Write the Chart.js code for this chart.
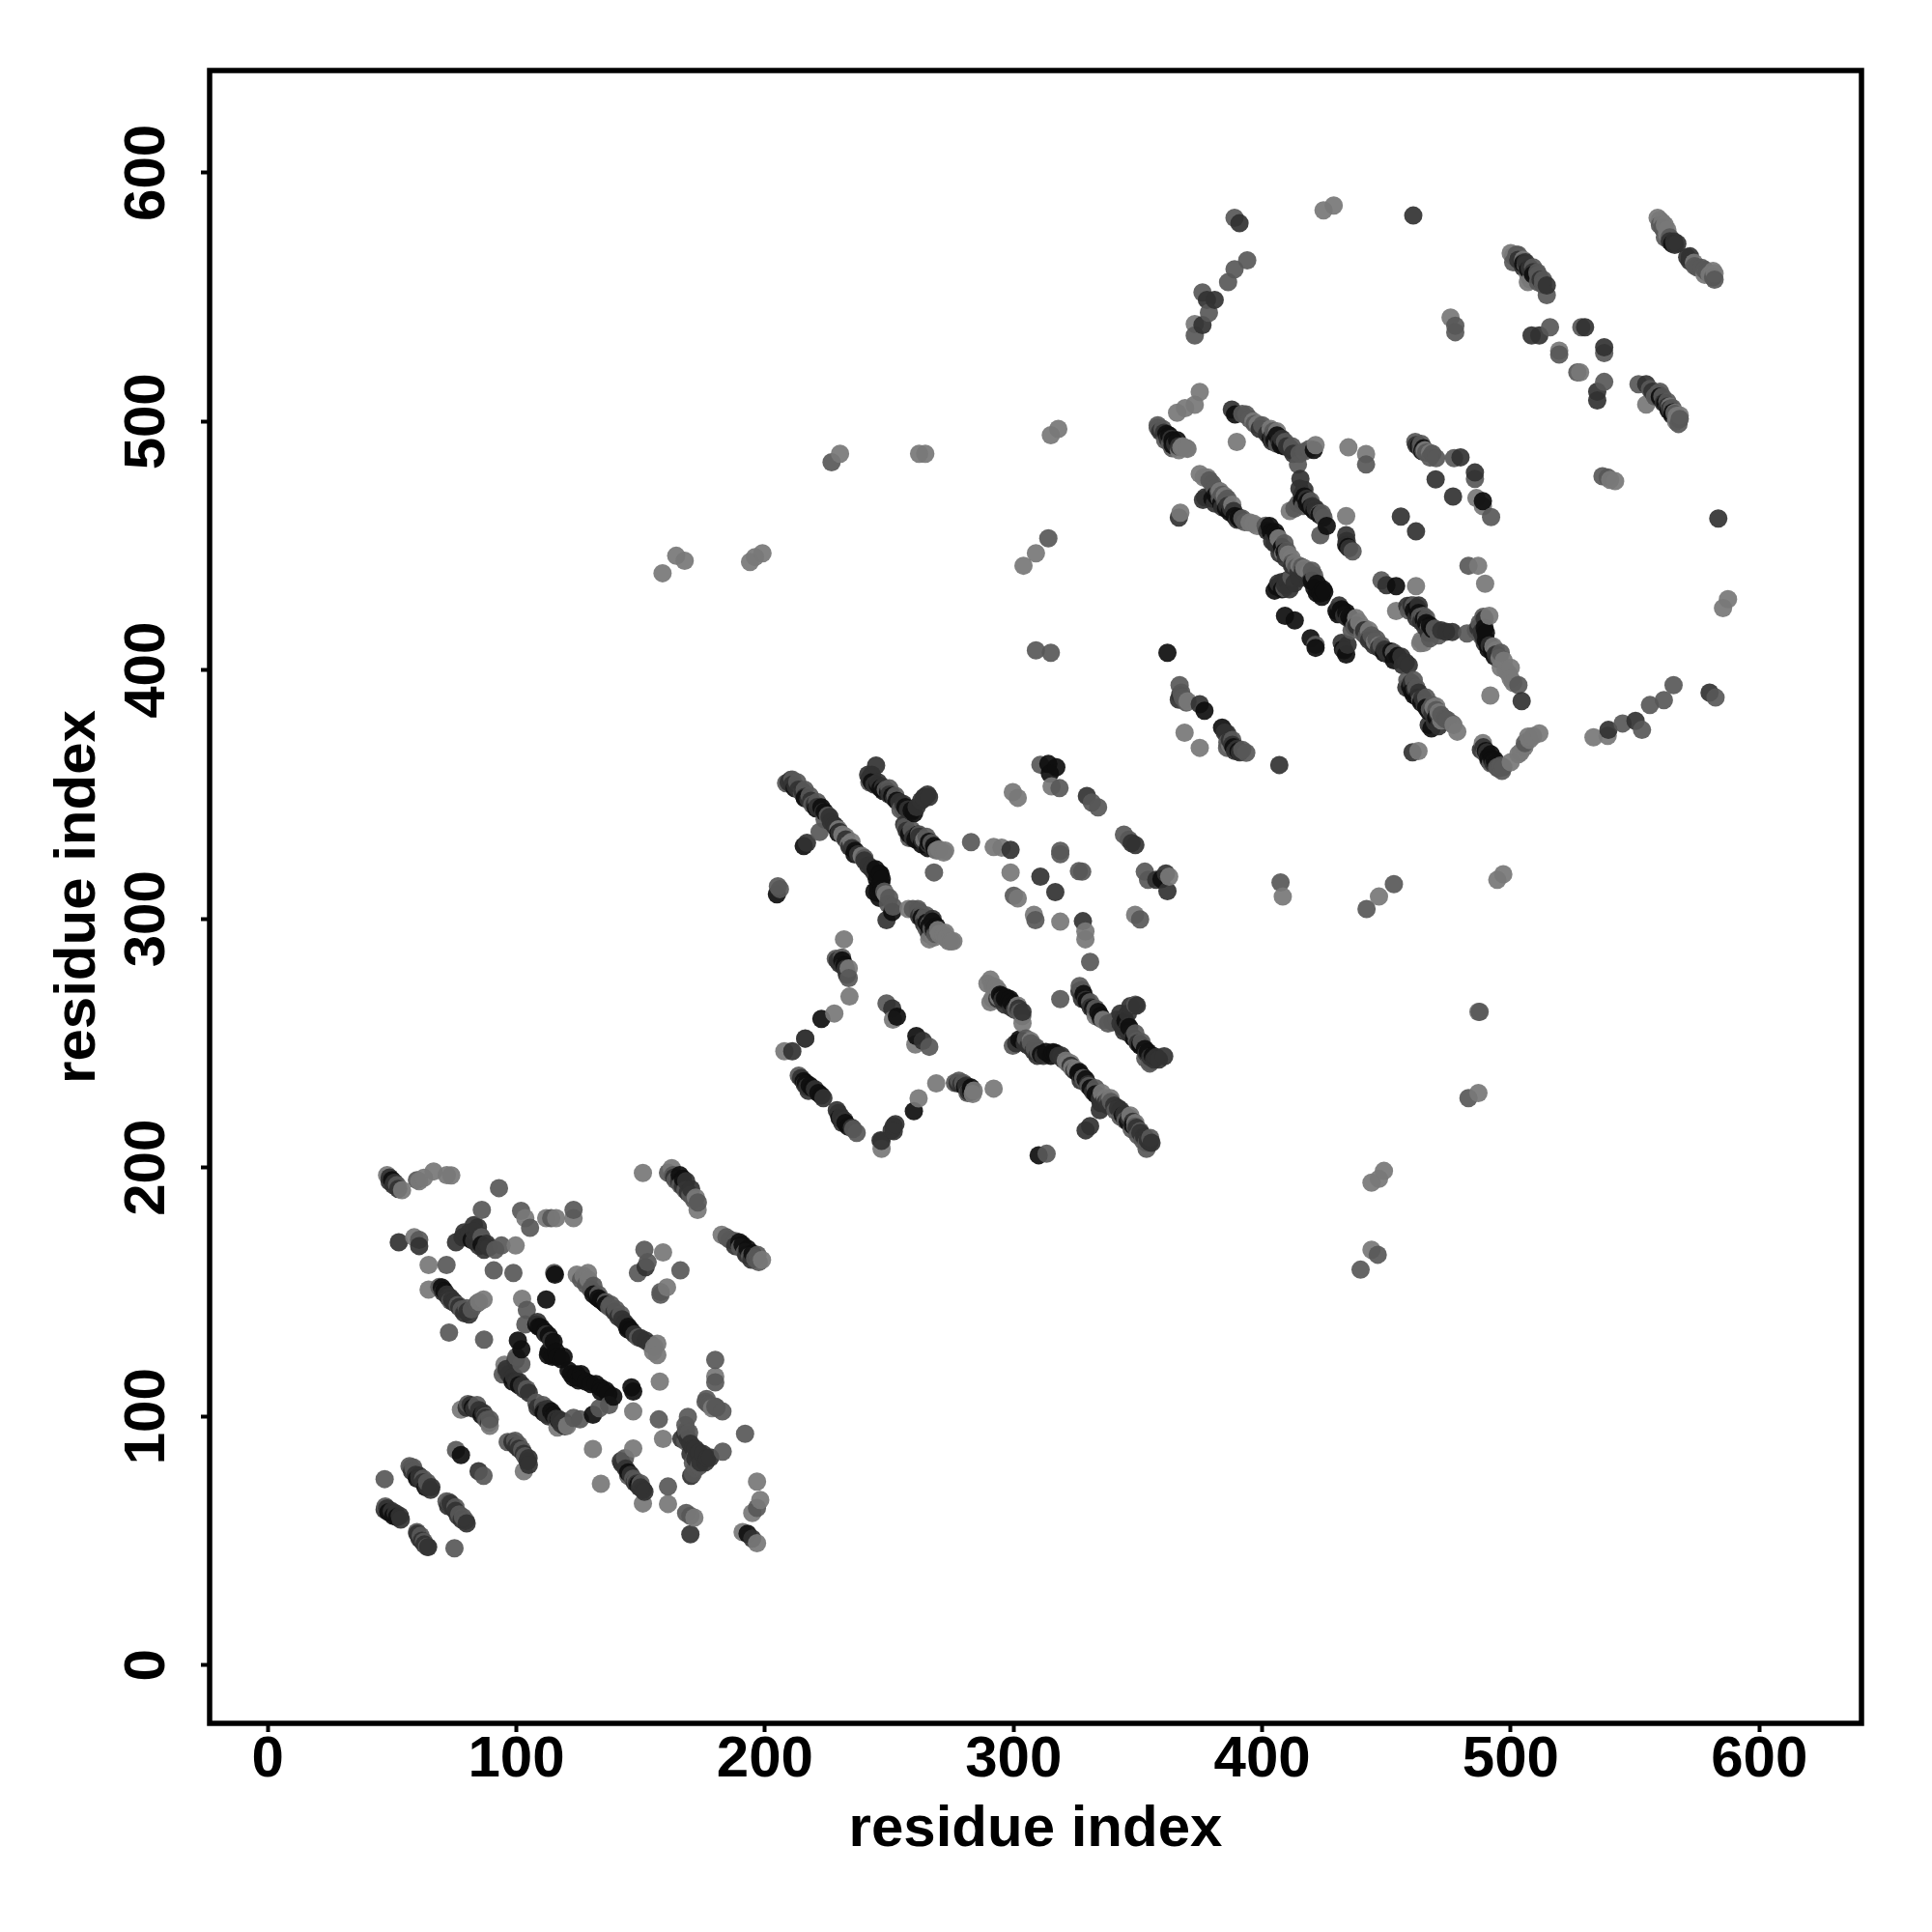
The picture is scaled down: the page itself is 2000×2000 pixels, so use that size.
<!DOCTYPE html>
<html><head><meta charset="utf-8">
<style>html,body{margin:0;padding:0;background:#fff}#w{width:2000px;height:2000px}</style>
<script src="https://cdn.jsdelivr.net/npm/chart.js@4/dist/chart.umd.min.js"></script>
</head><body><div id="w"><canvas id="c" width="2000" height="2000"></canvas></div>
<script>
const tickValues=[0,100,200,300,400,500,600];
const axisTitle="residue index";
const lightPoints=[[48,197],[54,191],[60.9,194.6],[62.8,195.9],[66.7,198.5],[73.8,196.9],[72,197],[58.9,172],[64.7,160.9],[64.7,151],[86.8,147],[85,146],[99.7,168.7],[103.6,179.7],[112,179.7],[116,179.7],[123,179.7],[150.9,197.9],[162.5,199.8],[172.2,188],[172.9,183],[182.6,173],[198.8,162.9],[124.3,157],[128.8,157.7],[127,156.5],[129,155],[156.7,129.2],[155.5,128],[156.7,124.7],[155,126],[159,165.9],[160.6,151.9],[102.3,147.3],[95.2,120.8],[180,116],[178.7,103.3],[159,91],[130.8,86.9],[147,87.1],[134,72.9],[161,64.8],[150.9,65],[171.6,59.3],[196.8,73.8],[198.1,66.4],[194.9,61.2],[191,53.5],[196.8,49],[120.4,96.2],[116.5,95.5],[147,102],[157.7,114],[77.7,102.7],[89.3,96.2],[103,78],
[231.1,333.9],[233.7,330],[238.9,325.4],[229.5,336],[248.6,309.9],[264.1,331.9],[271.9,326.7],[270,328],[257.7,304],[266.1,291.8],[271.9,293.7],[275.8,291.1],[273,292.5],[292,328.9],[295.2,328.7],[299.7,351],[301.7,348.7],[315.3,353.3],[298.8,318.7],[301.7,308.3],[308.2,301.7],[318.8,298.9],[328.9,295],[328.9,291.8],[348.9,301.7],[362.6,317],[231.8,291.8],[233.7,280.1],[234,268.8],[227.9,262],[207.8,246.8],[246.9,207.6],[261.8,227.9],[268.9,233.9],[283.6,229.6],[292,231.8],[251.5,259.5],[260.5,249.5],[290.7,275.6],[292.6,271.7],[290.7,266.5],[301.7,265.2],[303.6,258.1],[336,259.4],[333,261],[306.9,251],[321.8,241.9],[323.5,240],
[374.9,511.9],[372.9,506.7],[369,505.4],[365.8,503.5],[369.7,489.2],[368,490],[398.2,498.9],[403.4,497],[396.5,500],[421.5,490.5],[389.8,491.8],[411.1,464],[434.7,489.6],[441.8,486.9],[433.8,462],[467.5,487.3],[465.5,488.5],[486.2,469.2],[488.8,465.9],[486.9,442],[489.7,434.8],[374.9,478.9],[376.5,477.5],[367.1,463.3],[394.9,459.4],[396.5,459],[406.6,453],[411.8,445.2],[413,443],[418.9,439.4],[439,419.3],[437.8,421],[445.4,411.5],[447,410],[461.9,433.8],[453.9,423.8],[463.6,410.9],[491.4,421.9],[497.2,403.8],[499.2,398.6],[500,401],[491.8,389.8],[472,379.8],[478.5,375.3],[462.9,367.5],[488.8,370.7],[503.1,366.2],[507,373.3],[511.5,374.6],[509,373.5],[368.8,374.9],[374.9,368.8],
[424.7,584.9],[428.8,586.8],[372.9,539.2],[500,567.7],[501,566.5],[506.9,556],[559.1,581.9],[562.9,575.4],[561,580],[573.7,563.8],[581.4,560.5],[475.8,541.8],[519.5,528.5],[527.9,519.7],[554.5,506.8],[566.8,502.3],[567.5,501],
[158.8,439],[164.3,446],[167.7,444],[194,443.5],[196,445.5],[199,447],[230.2,487],[262,487],[264.5,487],[315,494.5],[318,497],[304,442],[309,447],[408.3,309],[447,309],[494.6,315.7],[497,318],[487,262.6],[487,230],[444,194],[449,198.7],[447,195.5],[444,167],[533.3,373],[539,373.6],[585.4,425],[587.4,428.6],[542,476],[540,476.5],
[234.8,331],[232.5,333],[268,292.5],[270,294],[273,292],[275,291],[272.5,294.5],[269.5,295.5],[274,291],[269,327.5],[272.5,327.5],[284,231],[289.5,274],[291.5,273],[293,272.5],[294,271],[294,268.5],[291.5,268],[321,243],[323,242],[325,239.5],[335.5,230],[337,228],[339,228],[347,221],[349,218],
[367.5,489.5],[366.5,488.5],[370,489],[406,496],[378,477.5],[383,472],[385,470],[388,466.5],[398,458],[408.5,447],[410.5,446.5],[415,442],[417,441],[441,417],[443,416],[440.5,415],[469,385],[470,385.5],[471,383],[477,378],[464,412],[465,411],[493,409.5],[495.5,405],[494,408],[496,401],[498,400],[500,396.5],[501,395],[500,363],[505.5,369],[507.5,372],[504,367],[370,387.5],[387,370],[503,566],[505,565],[507,559],[508,557],[560,581],[562,579],[563,577],[578,559],[580,559],[582,559.5],[564,506],[566,503.5],[568,502.5],[566.5,500]];
const midPoints=[[60,195],[52,193],[93,191.8],[86.1,183],[101.9,182.6],[105.5,175.8],[114,179.7],[123,183],[60.9,171],[71.9,160.9],[90.9,158.7],[98.8,157.7],[115.2,157.7],[148.9,157.7],[152.8,162],[158,148.9],[158,150],[166,158.7],[76.4,144.8],[78,143],[73.5,146.5],[84.2,145.4],[72.9,133.7],[87,130.9],[104.2,142.8],[103.6,137],[137.3,144],[148.9,131.8],[94.5,116.9],[96,118],[104.2,111],[180,122.7],[180,113.7],[176.1,105.9],[182.9,102],[180.5,103.5],[157.3,98.8],[169,99.8],[192,93],[183,85.8],[168.3,94.2],[171,81.3],[172,84],[143.7,83.2],[145,76.1],[148,74],[161,71.8],[168.3,61.2],[170,60],[196.8,63.2],[110.7,104.6],[108,105.5],[123,99.4],[125.6,98.8],[133.4,103.3],[137.3,104.6],[84.2,104.6],[89.3,98.8],[87.5,100],[96.5,89.7],[102.3,86.5],[75.7,86.5],[86.8,76.1],[47,74.8],[57.6,79.4],[59,78],[64.1,73.5],[62.5,75],[47.3,63.8],[71.9,65.8],[77,60.6],[79.6,58],[78.5,59.5],[62.8,49.6],[64.1,47.6],[75.1,47],[86,172],[94,168.7],[91.5,167],[151.5,167],
[161,198],[163,197],[164,195],[166,193],[168,191],[170,189],[171.5,187],[173,186],[184.5,172],[186,171],[188,170.5],[190,168],[192,166],[194,164.5],[196,163.5],[197.5,162],[197,165],[126,155],[128,153],[130,151],[131,152.5],[133,149],[136,146],[138,145],[140,143],[142,141],[80,143.5],[82,143],[69,152],[102,121],[100,124],[80.5,105],[88,98.5],[101,88.5],[99.5,90.2],[103.5,84],[57,80],[58.5,79.5],[73,65.5],[75.5,63.5],[60,53.5],[61.5,52],[147,75],[150,73],[168,96.5],[168,90],[169.5,93.5],[172,79],[171,77],[173.5,80],[177,105],[178,104.5],[180,104],[176.5,107],
[208.5,354.6],[214.9,350.7],[225.3,341.6],[222,335],[219,346],[248.9,266],[255.7,344],[248.6,352],[259,335.8],[268,318.7],[261.5,304],[264.8,301.5],[282.9,330.9],[205.2,313.1],[206,312],[310.8,362],[318.5,352.6],[331.5,346.8],[334,344.9],[318.8,327.4],[318.8,326],[326.3,319.2],[327.6,319],[300.1,309.3],[308.8,299.5],[330.8,282.7],[344.4,333.9],[346.4,331.9],[352.8,319],[354.1,315.7],[350.9,299.8],[233.7,276.2],[213.6,237],[236.9,214],[276.4,234.1],[279.7,234.1],[266.1,248.6],[318.8,267.8],[326.6,273],[330.8,266.5],[333,264],[349,265.5],[349.6,251],[354.8,241.9],[299.7,249],[310.1,246.4],[308.5,248],[330.2,232.8],[328.5,235],[339.2,226.4],[345.7,219.2],[350.9,214.7],[349,216.5],[353.5,207.6],[313.3,205.6],[216.2,252],
[211,356],[213,355],[216,352],[218,349.5],[221,347],[224,340],[240,324.5],[248,311],[250,308.5],[249.5,306],[251.5,305],[242,355],[250,352.5],[252.5,349.5],[254.5,344],[256.5,337],[258,332.5],[262,334],[265,333],[267,330.5],[259.5,304],[262,303],[263,302],[264,300],[266,298],[267,296],[268.5,294],[265,296],[233,277.5],[228.5,284],[231,284.5],[235.5,215.5],[278,235],[281.5,230],[301,263.5],[302.5,262.5],[303.5,261],[327.5,271.5],[338,258],[340,258.5],[341.5,259.5],[349,254],[351.5,250.5],[353,244],[355,242.5],[305,252],[307,250],[309,248.5],[328,236],[333,232],[338,227],[341,223],[343,220.5],[345,219],[347.5,215.5],[350,213],[352,211],[353.5,210],[355,212],
[360,497],[358,498.5],[363.9,489.2],[393.6,502.8],[409.2,491.8],[416.9,487.9],[414.4,482.7],[424.7,461.4],[423,463],[423.4,454.3],[441.8,482.7],[436.4,447.8],[461.6,491.8],[470,485.3],[477.2,485.3],[485.6,476.9],[492.1,461.6],[483,442],[378.8,476.3],[385.2,467.9],[383,469],[401.4,458.1],[413.7,441.3],[411.8,437.4],[440.9,414.8],[443,413],[421.5,410.2],[448,436.1],[464.9,421.9],[469.4,416.7],[467.5,412.8],[482.4,414.8],[503.1,394],[458.4,396],[463.6,388.2],[467.5,384.3],[465.5,386],[476.5,378.5],[495.9,361.7],[489.5,366.8],[505.7,370.7],[366.8,394],[369,388.2],[385.9,368.8],[393.6,366.8],[409,433],
[358,497.5],[361,492.5],[363,491],[392,503],[395,501],[397,499],[400,498.5],[404.5,496],[406,491],[412,490],[415,487],[419,489],[414.5,467],[413,465],[416.5,466],[419.5,468],[424,463],[464,491],[465,488],[466,487.5],[467.5,485.5],[468.5,487],[463,490],[464,488.5],[380,475],[381,473],[382.5,472],[384,470.5],[386,469],[392,461],[393,459.5],[409,451],[410,448],[412,443],[416,441.5],[420,440],[421,438],[437,417.5],[436,416],[442,413.5],[446,412.5],[444,414],[448,410],[453,407],[461,396],[462,393],[466,389],[468.5,386],[470,384],[472,382],[473.5,380.5],[474.5,380],[459,424],[461,426],[463.5,421.5],[466,421],[467,417],[471,414],[486,416],[487.5,419],[489,421.5],[488,414],[496,407],[492,362.5],[495,360.5],[494.5,361],[497,361],[496.5,359.5],[367.5,391],[368,389],[369.5,387],[386,371],[388,372],[392,368],
[388.9,581.9],[394,564.8],[388.9,561.2],[386.3,556],[376,551.9],[378.6,543.7],[372.9,534.6],[502.3,567],[510.7,559.9],[514.5,550.8],[561.4,577.4],[576.8,561.8],[581.4,558],[477.7,538.5],[477.7,535.9],[515.8,537.9],[528.4,537.9],[537.6,527.5],[519.5,526.9],[526.8,519.7],[537.6,515.9],[551.4,515],[559.1,511.3],[567.5,499],[505,564],
[501,564],[503,567],[506,563],[509,562],[511,559],[513,557],[511,556],[513,555],[560,579],[561,578],[562,574],[564,574],[574,562.5],[575,562],[578,561],[579,560],[582,557],[556,513],[558,510],[560,512],[561,510],[563,508],[565,505.5],[566,503],[568,501],
[226.8,483.6],[314,453],[309,408],[315,407],[407.4,314.7],[442,304],[453,314],[487.5,262.6],[483,228],[439.6,159],[446.5,165],[545,378.6],[552.8,376],[556,386],[561.6,388],[565.5,394],[582.4,389],[536.9,478],[539,477.5]];
const darkPoints=[[49,196],[51,194],[52.7,170],[60.9,168.5],[82.9,176.9],[81,173.9],[75.7,170],[78.3,172],[88,169.4],[84.5,176],[168.3,194.6],[170.3,191.4],[152,160],[73.2,148],[80.3,142.2],[72,149],[114,130.5],[99.7,122.7],[98.4,115.6],[102.3,112.4],[100,114],[143.7,137.6],[166.4,91],[171,87.1],[176.8,83.2],[170.3,76.1],[173,85],[147.6,73.5],[151.5,69.7],[149.5,71.5],[170,52.6],[194.9,50.9],[117.2,98.8],[119,98],[81.6,104.6],[86.8,101.4],[98.4,89.7],[104.9,83.2],[84.8,78],[49.9,61.9],[53.1,60],[51.5,61],[74.5,63.2],[60.2,52.8],[60.9,76.1],[65.8,71.6],[175,85],
[49,194.5],[50.5,193],[52.5,191.5],[79,174],[80.5,172],[83,170.5],[85,168.5],[87,167],[89,168],[83,174.5],[85.5,172.5],[163.5,196],[165.5,194.5],[167,192.5],[169,190],[188,168.5],[192.5,165],[194.5,163],[139.5,142],[141,140],[142.5,139],[144.5,136],[147.5,133],[150,131.5],[152,130.5],[154,129],[74,147],[75,146],[77,144],[79,141.5],[81,141],[70.5,150],[72.5,148],[74.5,146],[108.5,138],[112,133],[96,119],[97,117],[99,116],[100,113.5],[101,114],[103,111],[105,109.5],[108.5,103.5],[110,103],[111,102.5],[112,101],[113,100],[115,100],[116,99],[118,97],[119.5,96],[112.5,103],[80,103.5],[83,103],[85,102.5],[87.5,99.5],[89,97.5],[99,89],[100,88],[101,87],[103,85],[104.5,82],[105,80.5],[58,78],[59.5,76.5],[61,75],[62.5,73.5],[64,72],[65.5,70.5],[47,62.5],[48,63],[53.5,58.5],[72.5,64],[73.5,65],[75.5,62],[76.5,60],[78,58.5],[80,57],[61,51],[62,50],[63,48.5],[64.5,47.5],[142.5,81],[144,79],[146,76.5],[148.5,73],[150,71.5],[151,70.5],[142,82],[168,93],[169,91],[170,89],[172,87],[173.5,85.5],[170,85],[172,83],[174,81.5],[176,81.5],[178,83.5],
[210.4,355.9],[212.3,353.3],[217.5,348.1],[227.9,337.7],[242.8,320.3],[248.9,299.5],[216.9,330.6],[244.7,361.7],[242.1,356.5],[255.7,346.2],[265.4,350],[262.8,347.5],[264,349],[267.4,300],[268,295],[298.8,327.8],[329.5,349.4],[349,329.7],[347.5,330.5],[357.4,315.7],[361.9,311.2],[361.3,318.3],[327.9,299.1],[310.8,317],[316.8,310.8],[229.2,283.3],[216.2,251.9],[211,246.8],[217.5,230.9],[220.1,231.6],[228.9,223.1],[231.1,218],[246.9,210.8],[251.8,216.7],[251.8,214.7],[251.2,264],[263.5,251],[303.6,262.6],[302,264],[349.6,265.2],[344.4,260],[344.4,254.9],[346,257],[357.4,244.5],[360.6,244.8],[319.2,245.1],[334.7,227.7],[334.7,223.1],[336,226],[330.8,216.7],[329,215],[343.1,223.1],[354.8,210.2],[353,212],
[209.5,355],[211,354],[213.5,352],[215,351.5],[216,349],[218.5,347.5],[220,346],[221,345],[223.5,343],[226,341],[226.5,339],[228.5,337],[230,335],[232.5,332],[234,329],[235,328.5],[237.5,326],[240,323.5],[241.5,321.5],[244,318.5],[241.5,358],[243,358],[244,354],[245.5,355],[247.5,353],[250,350],[252,348.5],[254,347],[257.5,344],[259,343],[261,345],[264,348.5],[266,349],[256,338],[257,335.5],[259.5,332.5],[262,333],[263.5,331.5],[266,330],[262,301],[264,298],[266,294],[230,282],[231.5,281],[232.5,280],[233,278],[214.5,236],[216,233.5],[217,232.5],[223.5,228],[229.5,222],[230.5,220.5],[232,219],[235,216],[251,215],[252.5,217.5],[246.5,211],[277.5,234],[279,233.5],[281,233],[282,230.5],[293.5,268],[295.5,267.5],[296.5,265.5],[299,264.5],[300.5,263.5],[326.5,271],[327.5,268],[329,267.5],[331,264.5],[332.5,263],[335,260],[343,262],[346,262],[347,265],[343,258],[344,256.5],[346.5,254],[348,252.5],[350,250],[353.5,246],[355,244.5],[356.5,243.5],[358.5,243.5],[301,250],[304.5,250],[306,249],[308,247],[309.5,245],[312,245],[318,245],[320,243.5],[323,241],[324.5,239],[327,235],[330,233.5],[332,230.5],[335,226],[337,226],[338,225],[340.5,225],[342,224],[344.5,221.5],[346.5,220],[348,218.5],[349.5,216],[351,214],[352.5,212.5],[354,211],[355.5,210],
[387.8,504.8],[411.8,488.6],[415.4,476.9],[420.2,465.9],[433.8,454.3],[485.6,479.5],[469.8,476.7],[476.8,469.8],[455.8,461.8],[461.9,455.8],[479.8,485.6],[376.2,468.5],[366.5,461.4],[388.5,464],[407.9,449.1],[409.2,434.2],[449.3,408.3],[457.8,403.1],[434.4,410.2],[450,434.2],[458.4,425.8],[472,416],[476.5,415.4],[474,415.5],[489.5,420.6],[488.2,415.4],[494,406.3],[504.4,387.6],[470.7,382.4],[366.5,388.2],[374.9,386.3],[385.9,374.6],[389.1,367.5],[406.9,361.9],[460.5,367],
[359,496],[360.5,495.5],[362,493],[363.5,493],[365,491],[366.5,490],[399,497],[402,495],[404,494],[404,492],[407,492],[408,493],[410,490],[411,489.5],[412.5,487],[417,472.5],[415,473],[416,470.5],[418,469],[421.5,465],[422.5,463.5],[434,452],[435,449],[462,490.5],[463.5,490],[377,469.5],[379,470],[381,467],[384,465.5],[386,466],[387.5,465],[390,460.5],[402,456],[404,452],[405,451],[406.5,450],[407,447],[409.5,445],[412,442],[414.5,439],[416.5,440],[419.5,436],[406.5,435],[408,435.5],[410,436],[411,432.5],[413,435],[415,437],[431,426],[433,422],[434.5,421],[438,418],[441,416],[443,412],[445,410],[447,409],[450.5,406.5],[456,405.5],[456.5,402],[459,402],[432,411],[433,408],[458,393],[460,395],[461.5,392.5],[463,391],[464.5,389],[465.5,386.5],[468.5,382.5],[469.5,379],[471,377.5],[467,378],[460,426],[463,426],[462,421],[464,419.5],[465.5,417.5],[467,415],[487,417],[489,413.5],[489.5,411],[491.5,410],[494.5,406],[495,404.5],[488,368],[489,369],[490.5,367],[491,364],[493,362.5],[367,390],[385,375],[387,372],[388,370],[390,368.5],[391,367],
[390.9,579.7],[460.8,582.8],[377.8,548.9],[380.9,548.9],[376,538.8],[504.6,564.4],[507.6,561.8],[514.5,554.7],[565.7,572.4],[572.1,566.4],[567,571.5],[508.4,534.6],[511.5,534.6],[529.9,537.9],[537.6,529.8],[534.8,512],[534.8,508.5],[554.5,515],[580,391],[539.3,376],[550.2,379.6],[583.5,461],
[503,565],[505,562],[506,564],[508,561],[509,560],[512,557],[564,572.5],[566,571],[571,566],[572,564.5],[557,512],[560,509.5],[561.5,507.5],[563,506],[564,505]];
const blackPoints=[[50,195],[165.7,197],[167,195.5],[193,167.4],[191,169],[195,165.5],[189.7,170],[134,146.7],[132.5,148],[135.5,145.5],[146.3,134.4],[145,136],[70,151.9],[71,150.5],[112,147],[110,135.7],[111.5,133.5],[100.6,130.5],[116.5,124],[112.7,124.7],[114.5,124],[124.3,116.9],[123,115.6],[126,115],[132,113],[136,110.4],[134,111.5],[146.3,111.7],[114,102],[130.8,100.7],[77.7,84.5],[193,52.8],[115.5,157],[147,110],
[82,171],[86,169],[131,149],[133,147.5],[136,145],[144.8,135],[108,137],[109,136],[111.5,134],[113,132.5],[115,130],[113,126],[116,126],[118,123],[119,124],[122,117],[125,114.5],[128,114],[130,113],[134,110],[137,109],[139,108],[126,117],[121,118.5],[98.5,114],[101,112.5],[102,127],[111,101.5],[115,100.5],[117,98.5],[82.5,103.5],[86,100.5],[60,75],[63.5,71.5],[48.5,61.5],[50.5,60],[52,59.5],[145,77.5],[149,72.5],
[222.7,344.9],[224,343],[236.3,327.4],[246,318.3],[246.7,314.4],[245.4,310.5],[251.2,302.8],[247,316],[215.6,329.3],[245.4,353.9],[251.2,349.4],[259,343.6],[261.5,333.9],[268,329.3],[266,331],[267.4,298.9],[269,297],[317.2,361],[314.6,358.5],[314,362.3],[204.8,309.9],[359.5,316],[231.1,283.3],[222.7,259.8],[215.6,234.8],[222.7,229],[232.4,218],[259.9,222.7],[282.9,232.2],[253.1,260.7],[260.9,252.9],[295.2,269.1],[298.5,267.8],[297,268.5],[328.2,269.8],[334.1,262.6],[352.8,247.7],[351,249.5],[302.3,251.6],[315.9,246.4],[327.6,236.7],[326,238],[310.1,205],
[212,352.5],[216,348.5],[220.5,344.5],[229.5,334.5],[236,326],[244.5,320],[246.5,318],[245,316],[247,312],[245.5,313],[244,311],[246,308.5],[243,355],[246.5,352.5],[249.5,351],[253,347.5],[256.5,345],[260,342.5],[247.5,351.5],[258,334],[260.5,332],[263,330],[265.5,328.5],[268.5,328],[263,300.5],[266,297],[268,296],[265,298.5],[232,281.5],[216.5,234],[218,233],[219,232],[221.5,230],[230,220],[233.5,216.5],[280.5,232.5],[283,230.5],[294.5,269.5],[296.5,268],[299,266.5],[300,265.5],[329.5,267],[332,264],[335,261],[345,259],[346.5,256.5],[348.5,252],[351,249],[354,246.5],[356,245],[303.5,251],[311,245.5],[313,246.5],[315,245],[317,246],[326.5,238.5],[329,235.5],[331,232],[333,229.5],[344,221],[346,218.5],[348,217],
[362.6,494.4],[365.8,492.5],[389.1,502.8],[406,494.4],[420.8,488.6],[417,469.8],[418.5,468],[426,458],[433.8,450.4],[464.9,489.2],[381.3,470.4],[391.1,460.7],[405.3,455.6],[422.1,434.8],[423.4,430.9],[424.5,432.5],[406,433.5],[429.9,423.8],[433.8,423.2],[431.5,424],[454.5,405.7],[433.8,406.3],[409.2,421.9],[413.1,420],[419.5,412.8],[421.5,409],[453.9,433.8],[462.3,425.1],[467.5,418],[490.8,410.2],[460.3,391.5],[468.1,376.6],[492,366.2],[493.5,364],[361.9,407],[376.8,383.7],[383.9,376.9],[488.8,468],
[361.5,495],[364,492.5],[364,490.5],[403.5,493],[405,492.5],[407.5,490.5],[409,490],[416,468],[418,467],[419.5,465.5],[421,464],[423,462.5],[434.5,449.5],[463,490],[464.5,488],[380,469],[382,469.5],[383.5,467],[385.5,465],[387,463.5],[389,462],[390.5,461.5],[403,458],[403.5,455.5],[406,454],[408,449.5],[409,447.5],[420,436],[421,433],[422,431],[424,429.5],[425,431.5],[405,432],[408,432.5],[430.5,422.5],[432,424.5],[435,421.5],[436,420],[449,407],[452,407.5],[453,404],[432.5,408.5],[459.5,393.5],[461,390],[462.5,389],[464,387],[466,385],[467,383.5],[470,381],[461,424],[463,423],[465,420.5],[466,419],[468.5,416.5],[490,412],[491,408.5],[492.5,407.5],[493.5,405.5],[490,415],[489.5,417],[492.5,409],[490,367.5],[491,365],[492.5,364],[494,362.5],[388.5,369],[390.5,367.5],
[505,563.5],[507,561],[509,559],[565,571.5],[562.2,507.4],[565.2,503.6],[560,510],[563.5,504.5],[565,502.5]];
const shades=[[lightPoints,"rgba(120,120,120,0.93)"],[midPoints,"rgba(88,88,88,0.92)"],[darkPoints,"rgba(50,50,50,0.92)"],[blackPoints,"rgba(14,14,14,0.92)"]];
const merged=[];
shades.forEach(([pts,col])=>pts.forEach(([x,y])=>merged.push({x,y,col})));
merged.sort((a,b)=>a.x-b.x);
const labelFont={family:"'Liberation Sans',Arial,sans-serif",size:60,weight:"bold"};
function commonScale(title,pad,extra){return Object.assign({type:"linear",min:-23.4,max:641.1,
  afterBuildTicks(s){s.ticks=tickValues.map(v=>({value:v}));},
  grid:{drawOnChartArea:false,drawTicks:true,tickLength:9,tickWidth:4,tickColor:"#000"},
  border:{display:false},
  title:{display:true,text:title,color:"#000",font:labelFont,padding:pad}},extra);}
const boxPlugin={id:"box",afterDraw(ch){const a=ch.chartArea,c=ch.ctx;c.save();c.lineWidth=5.5;c.strokeStyle="#000";c.lineJoin="miter";c.strokeRect(a.left,a.top,a.right-a.left,a.bottom-a.top);c.restore();}};
new Chart(document.getElementById("c"),{type:"scatter",
 data:{datasets:[{data:merged.map(p=>({x:p.x,y:p.y})),backgroundColor:merged.map(p=>p.col),borderWidth:0,pointRadius:9.5,pointHoverRadius:9.5}]},
 plugins:[boxPlugin],
 options:{responsive:false,animation:false,events:[],
  layout:{padding:{left:0,right:73,top:73,bottom:0}},
  plugins:{legend:{display:false},tooltip:{enabled:false}},
  scales:{
   x:commonScale(axisTitle,{top:0,bottom:70},{ticks:{color:"#000",font:labelFont,maxRotation:0,minRotation:0,padding:-7,autoSkip:false,callback:v=>String(v)},afterFit(s){s.height=216;}}),
   y:commonScale(axisTitle,{top:45,bottom:0},{ticks:{color:"#000",font:labelFont,maxRotation:90,minRotation:90,padding:4,autoSkip:false,callback:v=>String(v),align:"center",crossAlign:"center"},afterFit(s){s.width=217;}})
  }}});
</script></body></html>
